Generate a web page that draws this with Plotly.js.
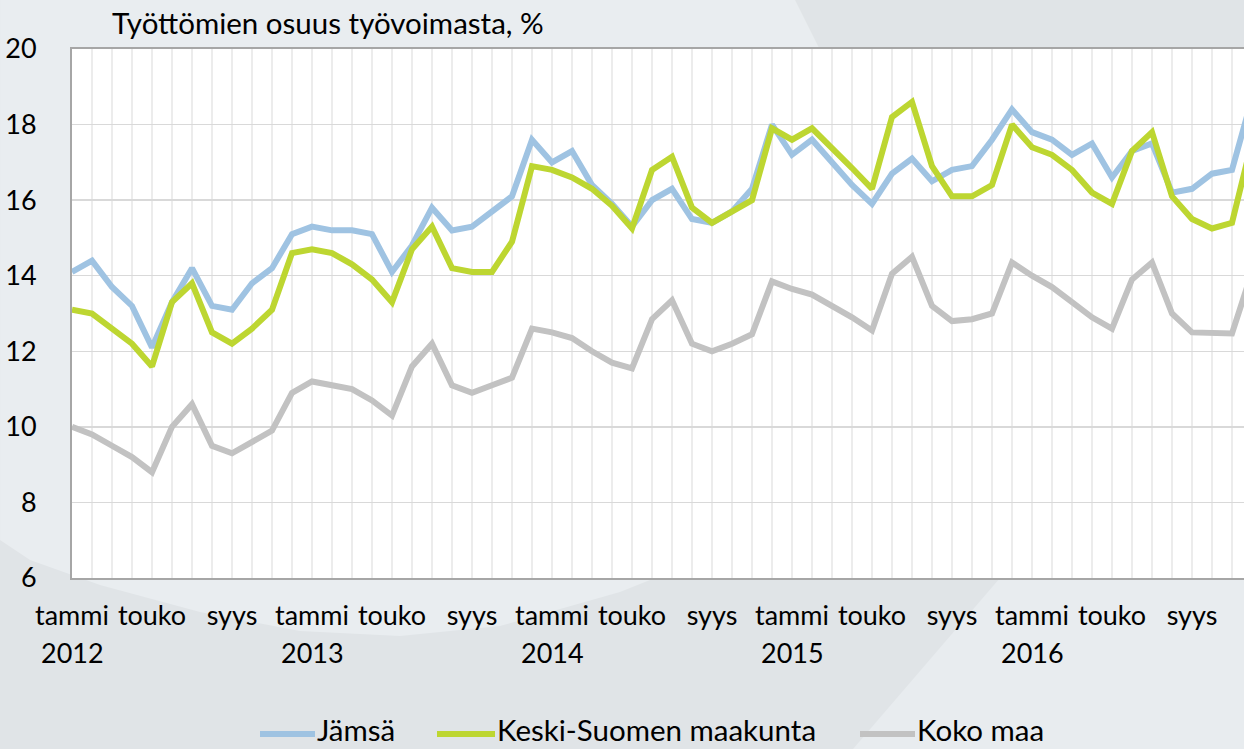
<!DOCTYPE html>
<html><head><meta charset="utf-8">
<script src="https://cdn.plot.ly/plotly-3.0.1.min.js"></script>
<style>html,body{margin:0;padding:0;background:#e2e6e9}</style>
</head><body><div id="chart" style="width:1244px;height:749px"></div>
<script>
// Months Jan 2012 – Dec 2016
const months = [
 "2012-01","2012-02","2012-03","2012-04","2012-05","2012-06","2012-07","2012-08","2012-09","2012-10","2012-11","2012-12",
 "2013-01","2013-02","2013-03","2013-04","2013-05","2013-06","2013-07","2013-08","2013-09","2013-10","2013-11","2013-12",
 "2014-01","2014-02","2014-03","2014-04","2014-05","2014-06","2014-07","2014-08","2014-09","2014-10","2014-11","2014-12",
 "2015-01","2015-02","2015-03","2015-04","2015-05","2015-06","2015-07","2015-08","2015-09","2015-10","2015-11","2015-12",
 "2016-01","2016-02","2016-03","2016-04","2016-05","2016-06","2016-07","2016-08","2016-09","2016-10","2016-11","2016-12"
];
const seriesNames = ["Jämsä", "Keski-Suomen maakunta", "Koko maa"];
const jamsa = [
 14.1,14.4,13.7,13.2,12.1,13.3,14.2,13.2,13.1,13.8,14.2,15.1,
 15.3,15.2,15.2,15.1,14.1,14.8,15.8,15.2,15.3,15.7,16.1,17.6,
 17.0,17.3,16.4,15.9,15.3,16.0,16.3,15.5,15.4,15.7,16.3,18.0,
 17.2,17.6,17.0,16.4,15.9,16.7,17.1,16.5,16.8,16.9,17.6,18.4,
 17.8,17.6,17.2,17.5,16.6,17.3,17.5,16.2,16.3,16.7,16.8,18.7
];
const keskiSuomi = [
 13.1,13.0,12.6,12.2,11.6,13.3,13.8,12.5,12.2,12.6,13.1,14.6,
 14.7,14.6,14.3,13.9,13.3,14.7,15.3,14.2,14.1,14.1,14.9,16.9,
 16.8,16.6,16.3,15.85,15.25,16.8,17.15,15.8,15.4,15.7,16.0,17.9,
 17.6,17.9,17.4,16.85,16.3,18.2,18.6,16.9,16.1,16.1,16.4,18.0,
 17.4,17.2,16.8,16.2,15.9,17.3,17.8,16.1,15.5,15.25,15.4,17.55
];
const kokoMaa = [
 10.0,9.8,9.5,9.2,8.8,10.0,10.6,9.5,9.3,9.6,9.9,10.9,
 11.2,11.1,11.0,10.7,10.3,11.6,12.2,11.1,10.9,11.1,11.3,12.6,
 12.5,12.35,12.0,11.7,11.55,12.85,13.35,12.2,12.0,12.2,12.45,13.85,
 13.65,13.5,13.2,12.9,12.55,14.05,14.5,13.2,12.8,12.85,13.0,14.35,
 14.0,13.7,13.3,12.9,12.6,13.9,14.35,13.0,12.5,12.47,12.47,14.1
];
const monthTickMonths = ["2012-01","2012-05","2012-09","2013-01","2013-05","2013-09","2014-01","2014-05","2014-09","2015-01","2015-05","2015-09","2016-01","2016-05","2016-09"];
const monthTickText = ["tammi","touko","syys","tammi","touko","syys","tammi","touko","syys","tammi","touko","syys","tammi","touko","syys"];
const yearTickMonths = ["2012-01","2013-01","2014-01","2015-01","2016-01"];
const yearTickText = ["2012","2013","2014","2015","2016"];
const colors = ["#9fc3e2", "#bdd631", "#c2c2c2"];

const xIdx = months.map((m, i) => i);
const idxOf = m => months.indexOf(m);
const values = [jamsa, keskiSuomi, kokoMaa];

const traces = values.map((v, k) => ({
  type: 'scatter', mode: 'lines', x: xIdx, y: v, name: seriesNames[k],
  line: {color: colors[k], width: 6}, hoverinfo: 'x+y'
}));

// pixel -> paper helpers (plot area: x 72..1244, y 49..578)
const L = 72, R = 1244, T = 49, B = 578;
const px = X => (X - L) / (R - L);
const py = Y => (B - Y) / (B - T);
const pathFrom = pts => 'M ' + pts.map(p => px(p[0]).toFixed(4) + ' ' + py(p[1]).toFixed(4)).join(' L ') + ' Z';

const shapes = [
  {type: 'path', xref: 'paper', yref: 'paper', layer: 'below', line: {width: 0}, fillcolor: '#e9edf0',
   path: pathFrom([[0,0],[795,0],[845,100],[700,560],[620,592],[500,626],[400,636],[300,631],[200,612],[100,585],[30,560],[0,540]])},
  {type: 'path', xref: 'paper', yref: 'paper', layer: 'below', line: {width: 0}, fillcolor: '#e8ecef',
   path: pathFrom([[853,749],[1000,578],[1244,578],[1244,749]])},
  // white plot area
  {type: 'rect', xref: 'paper', yref: 'paper', layer: 'below', x0: 0, x1: 1, y0: 0, y1: 1,
   line: {width: 0}, fillcolor: '#ffffff'}
];
const legendPos = [[260, 315, 316], [437, 495, 496], [860, 915, 916]];
const annotations = [];
legendPos.forEach((p, k) => {
  shapes.push({type: 'line', xref: 'paper', yref: 'paper', x0: px(p[0]), x1: px(p[1]), y0: py(734), y1: py(734),
               line: {color: colors[k], width: 6}});
  annotations.push({xref: 'paper', yref: 'paper', x: px(p[2]), y: py(748), xanchor: 'left', yanchor: 'bottom',
                    text: seriesNames[k], showarrow: false, borderpad: 0, font: {size: 29.5, color: '#000'}});
});
yearTickMonths.forEach((m, k) => {
  annotations.push({xref: 'x', yref: 'paper', x: idxOf(m), y: py(652), xanchor: 'center', yanchor: 'middle',
                    text: yearTickText[k], showarrow: false, font: {size: 27, color: '#000'}});
});

const layout = {
  width: 1244, height: 749, autosize: false,
  margin: {l: 72, r: 0, t: 49, b: 171, pad: 0},
  paper_bgcolor: '#e0e4e7', plot_bgcolor: 'rgba(0,0,0,0)',
  font: {family: 'Lato, "Open Sans", sans-serif', size: 27, color: '#000'},
  showlegend: false,
  title: {text: 'Työttömien osuus työvoimasta, %', xref: 'container', yref: 'container',
          x: 112 / 1244, xanchor: 'left', y: 1 - 24 / 749, yanchor: 'middle', font: {size: 29.5, color: '#000'}},
  xaxis: {range: [0, 58.6], tickmode: 'array', tickvals: monthTickMonths.map(idxOf), ticktext: monthTickText,
          showgrid: true, gridcolor: '#ececec', gridwidth: 1.5,
          minor: {dtick: 1, tick0: 0, showgrid: true, gridcolor: '#ececec', gridwidth: 1.5, ticks: ''},
          showline: true, linecolor: '#a6a6a6', linewidth: 2, mirror: true, ticks: '',
          ticklabelstandoff: 13, zeroline: false},
  yaxis: {range: [6, 20], tickmode: 'linear', tick0: 6, dtick: 2, showgrid: true, gridcolor: '#d9d9d9', gridwidth: 1.5,
          showline: true, linecolor: '#a6a6a6', linewidth: 2, ticks: '', ticklabelstandoff: 28, zeroline: false},
  shapes: shapes, annotations: annotations
};
Plotly.newPlot('chart', traces, layout, {displayModeBar: false, staticPlot: true});
</script></body></html>
